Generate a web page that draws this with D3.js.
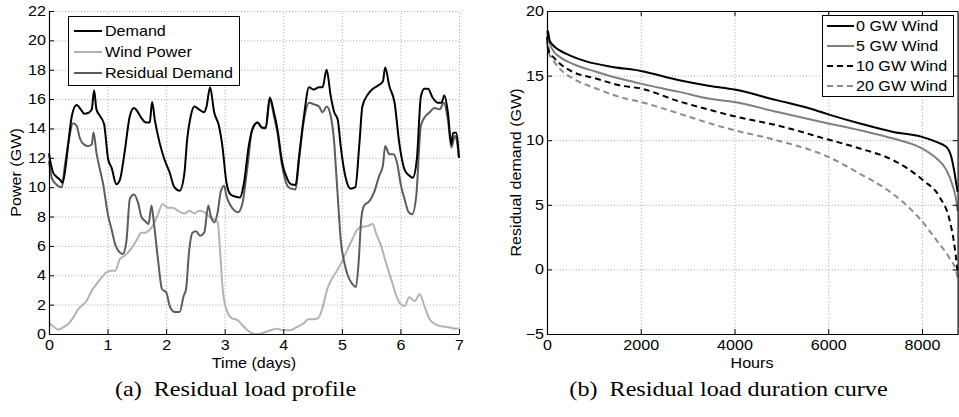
<!DOCTYPE html>
<html><head><meta charset="utf-8">
<script src="https://cdn.jsdelivr.net/npm/d3@7"></script>
<style>
body{margin:0;background:#fff}
svg text{fill:#000}
</style>
</head><body>
<svg id="chart" width="959" height="417"></svg>
<script>
// ---------- data: (a) residual load profile ----------
const dayTicks = [0,1,2,3,4,5,6,7];
const powerTicks = [0,2,4,6,8,10,12,14,16,18,20,22];
const profileSeries = ["Demand","Wind Power","Residual Demand"];
const demand = [[0,12.3],[0.03,11.6],[0.07,11.0],[0.13,10.7],[0.19,10.5],[0.23,10.3],[0.27,11.0],[0.33,13.0],[0.39,14.85],[0.47,15.6],[0.56,15.2],[0.60,15.0],[0.67,15.05],[0.73,15.3],[0.77,16.6],[0.81,15.3],[0.87,14.85],[0.94,14.3],[1.01,11.9],[1.07,11.3],[1.15,10.2],[1.21,10.5],[1.29,12.35],[1.38,14.85],[1.45,15.4],[1.52,15.1],[1.58,14.7],[1.66,14.4],[1.72,14.4],[1.76,15.8],[1.81,14.5],[1.89,13.0],[1.97,11.9],[2.06,11.0],[2.14,10.0],[2.23,9.75],[2.31,10.9],[2.36,13.3],[2.42,14.85],[2.48,15.5],[2.56,15.3],[2.65,15.1],[2.69,15.5],[2.75,16.8],[2.82,15.1],[2.90,14.2],[2.96,12.8],[3.03,10.3],[3.10,9.5],[3.19,9.35],[3.26,9.3],[3.33,10.3],[3.41,12.8],[3.47,13.9],[3.56,14.4],[3.64,14.05],[3.70,14.05],[3.77,16.1],[3.84,15.1],[3.90,13.95],[3.98,11.7],[4.07,10.55],[4.13,10.2],[4.21,10.15],[4.27,12.1],[4.35,14.75],[4.44,16.8],[4.52,16.65],[4.61,16.8],[4.67,16.8],[4.74,18.0],[4.81,16.2],[4.87,15.1],[4.93,14.6],[4.98,12.8],[5.07,10.55],[5.15,9.9],[5.23,10.0],[5.30,13.0],[5.35,15.5],[5.44,16.3],[5.53,16.7],[5.61,16.9],[5.70,17.2],[5.74,18.15],[5.81,16.9],[5.90,15.75],[5.98,13.0],[6.07,11.2],[6.15,10.8],[6.21,10.65],[6.28,11.9],[6.35,16.2],[6.41,16.7],[6.47,16.7],[6.55,16.1],[6.64,15.75],[6.70,15.75],[6.75,16.25],[6.81,15.1],[6.87,12.9],[6.90,13.7],[6.95,13.7],[7.0,12.0]];
const windPower = [[0,0.75],[0.05,0.6],[0.16,0.3],[0.24,0.45],[0.33,0.7],[0.41,1.1],[0.50,1.7],[0.58,2.0],[0.64,2.25],[0.73,2.95],[0.81,3.4],[0.90,3.85],[0.98,4.2],[1.07,4.3],[1.13,4.3],[1.21,5.1],[1.28,5.3],[1.35,5.55],[1.42,5.9],[1.49,6.35],[1.58,6.9],[1.64,6.9],[1.72,7.1],[1.77,7.35],[1.86,8.15],[1.94,8.85],[2.03,8.6],[2.11,8.6],[2.20,8.4],[2.31,8.2],[2.40,8.4],[2.48,8.2],[2.56,8.4],[2.65,8.3],[2.73,8.0],[2.82,7.8],[2.88,7.6],[2.93,5.1],[2.97,2.85],[3.05,1.45],[3.13,1.05],[3.22,0.95],[3.30,0.6],[3.39,0.25],[3.47,0.05],[3.56,0.0],[3.67,0.1],[3.78,0.25],[3.90,0.35],[4.0,0.25],[4.11,0.25],[4.22,0.45],[4.34,0.7],[4.43,1.0],[4.51,1.0],[4.60,1.1],[4.67,1.8],[4.75,3.05],[4.83,3.75],[4.93,4.4],[5.01,5.0],[5.10,5.8],[5.18,6.45],[5.27,7.15],[5.35,7.3],[5.44,7.35],[5.53,7.5],[5.58,6.9],[5.67,6.0],[5.75,4.9],[5.84,3.75],[5.93,2.6],[6.0,2.05],[6.07,1.9],[6.15,2.5],[6.24,2.25],[6.33,2.7],[6.41,1.9],[6.50,1.0],[6.58,0.7],[6.67,0.55],[6.75,0.5],[6.84,0.45],[6.95,0.35],[7.0,0.4]];
const residualDemand = [[0,11.8],[0.05,10.6],[0.10,10.3],[0.22,10.0],[0.27,11.45],[0.33,13.0],[0.41,14.35],[0.47,14.2],[0.53,13.3],[0.60,12.9],[0.67,12.8],[0.73,12.9],[0.76,13.75],[0.81,12.35],[0.87,11.2],[0.92,10.3],[1.01,8.05],[1.07,7.1],[1.13,6.1],[1.21,5.55],[1.26,5.45],[1.32,6.25],[1.38,9.2],[1.45,9.5],[1.52,8.95],[1.58,7.95],[1.64,7.7],[1.70,7.5],[1.75,8.75],[1.79,7.6],[1.86,5.1],[1.93,3.05],[2.00,2.85],[2.07,1.8],[2.15,1.5],[2.23,1.5],[2.30,2.6],[2.34,3.05],[2.39,5.55],[2.45,6.9],[2.51,7.0],[2.58,6.7],[2.65,6.9],[2.72,8.75],[2.76,8.05],[2.82,7.6],[2.88,8.3],[2.93,9.65],[2.99,10.1],[3.03,9.4],[3.10,8.75],[3.17,8.4],[3.23,8.3],[3.30,8.85],[3.39,11.45],[3.47,13.95],[3.56,14.4],[3.64,14.05],[3.70,14.0],[3.77,16.0],[3.84,14.85],[3.90,13.7],[3.98,11.45],[4.07,10.1],[4.13,9.9],[4.21,9.85],[4.27,11.9],[4.35,14.5],[4.44,15.75],[4.52,15.65],[4.61,15.5],[4.67,15.1],[4.74,15.5],[4.81,14.85],[4.87,13.0],[4.90,11.2],[4.94,8.75],[4.98,6.45],[5.04,4.9],[5.10,4.0],[5.18,3.4],[5.24,3.2],[5.29,5.1],[5.33,7.8],[5.38,8.75],[5.47,9.05],[5.55,9.65],[5.64,10.8],[5.70,11.45],[5.74,12.8],[5.81,12.25],[5.88,12.25],[5.94,11.7],[6.01,10.1],[6.07,9.2],[6.14,8.3],[6.20,8.15],[6.27,9.4],[6.35,14.2],[6.43,14.85],[6.50,15.1],[6.58,15.4],[6.67,15.3],[6.74,15.75],[6.81,14.6],[6.87,12.7],[6.93,13.5],[6.95,13.4],[7.0,12.0]];

// ---------- data: (b) residual load duration curve ----------
const hourTicks = [0,2000,4000,6000,8000];
const residTicks = [-5,0,5,10,15,20];
const durationSeries = ["0 GW Wind","5 GW Wind","10 GW Wind","20 GW Wind"];
const wind0GW = [[0,18.5],[21,18.4],[57,17.7],[128,17.35],[270,16.95],[482,16.57],[837,16.1],[1404,15.67],[2000,15.36],[2822,14.64],[3473,14.2],[4000,13.92],[4897,13.1],[5608,12.45],[6000,12.0],[6676,11.29],[7388,10.64],[8000,10.26],[8306,9.87],[8520,9.48],[8626,8.7],[8698,7.4],[8733,6.6],[8760,6.0]];
const wind5GW = [[0,18.4],[21,18.0],[57,17.5],[128,16.95],[270,16.45],[553,15.9],[1049,15.3],[1546,14.77],[2000,14.38],[2822,13.74],[3473,13.2],[4000,12.96],[4897,12.2],[6000,11.3],[6676,10.77],[7388,10.13],[8000,9.36],[8306,8.6],[8520,7.7],[8662,6.4],[8733,5.3],[8760,4.5]];
const wind10GW = [[0,18.0],[21,17.3],[57,16.7],[128,16.45],[270,15.93],[553,15.28],[1049,14.77],[1546,14.25],[2000,14.0],[2822,13.0],[3473,12.35],[4000,11.85],[4897,11.16],[6000,10.05],[6676,9.36],[7388,8.45],[8021,6.9],[8377,5.6],[8590,3.8],[8697,1.74],[8747,0.2],[8760,-0.3]];
const wind20GW = [[0,17.6],[21,17.0],[57,16.6],[128,16.2],[270,15.54],[553,14.77],[1049,14.0],[1546,13.35],[2000,12.96],[2822,12.06],[3473,11.3],[4000,10.77],[4897,10.0],[6000,8.71],[6676,7.4],[7242,6.2],[7600,5.2],[7954,3.92],[8310,2.26],[8590,0.85],[8733,-0.18],[8760,-0.7]];

const captions = ["(a)\u00a0\u00a0Residual load profile","(b)\u00a0\u00a0Residual load duration curve"];

// ---------- drawing ----------
const svg = d3.select("#chart");
const SX = 1.15;          // horizontal text stretch of the original raster
const FS = 14;
const SANS = '"Liberation Sans", Arial, Helvetica, sans-serif';
const SERIF = '"Liberation Serif", "Times New Roman", serif';

function gridLines(g, x, y, xt, yt){
  const [x0,x1] = x.range(), [y0,y1] = y.range();
  const grid = g.append("g").attr("stroke","#8a8a8a").attr("stroke-width",0.8).attr("stroke-dasharray","1,2.2");
  grid.selectAll(".vx").data(xt).join("line").attr("x1",d=>x(d)+0.5).attr("x2",d=>x(d)+0.5).attr("y1",y0).attr("y2",y1);
  grid.selectAll(".hy").data(yt).join("line").attr("y1",d=>y(d)+0.5).attr("y2",d=>y(d)+0.5).attr("x1",x0).attr("x2",x1);
}

function axes(g, x, y, xt, yt, box){
  const [x0,x1] = x.range(), [y0,y1] = y.range();
  const ax = g.append("g").attr("transform",`translate(0,${y0})`)
    .call(d3.axisBottom(x).tickValues(xt).tickSizeInner(-5).tickSizeOuter(0).tickPadding(6).tickFormat(d=>d));
  const ay = g.append("g").attr("transform",`translate(${x0},0)`)
    .call(d3.axisLeft(y).tickValues(yt).tickSizeInner(-5).tickSizeOuter(0).tickPadding(3).tickFormat(d=>d<0?"\u2212"+Math.abs(d):d));
  [ax,ay].forEach(a=>{
    a.selectAll("path.domain").attr("stroke","#000").attr("stroke-width",1.2);
    a.selectAll(".tick line").attr("stroke","#000");
    a.selectAll("text").attr("font-size",FS).style("font-family",SANS).attr("fill","#000");
  });
  ax.selectAll("text").attr("transform",`scale(${SX},1)`);
  ay.selectAll("text").attr("x",-3/SX).attr("transform",`scale(${SX},1)`);
  if (box){
    const at = g.append("g").attr("transform",`translate(0,${y1})`)
      .call(d3.axisTop(x).tickValues(xt).tickSizeInner(-5).tickSizeOuter(0).tickFormat(""));
    const ar = g.append("g").attr("transform",`translate(${x1},0)`)
      .call(d3.axisRight(y).tickValues(yt).tickSizeInner(-5).tickSizeOuter(0).tickFormat(""));
    [at,ar].forEach(a=>{ a.selectAll("path.domain").attr("stroke","#000").attr("stroke-width",1.2); a.selectAll(".tick line").attr("stroke","#000"); });
  }
}

function label(g, txt, x, y, rot, size, family, anchor){
  return g.append("text").text(txt)
    .attr("font-size",size).attr("text-anchor",anchor||"middle")
    .style("font-family",family||SANS)
    .attr("transform",`translate(${x},${y}) rotate(${rot||0}) scale(${SX},1)`);
}

function legend(g, names, styles, bx, by, bw, bh, rowY, lineX0, lineX1, textX){
  g.append("rect").attr("x",bx+0.5).attr("y",by+0.5).attr("width",bw).attr("height",bh)
    .attr("fill","#fff").attr("stroke","#000").attr("stroke-width",1);
  names.forEach((n,i)=>{
    const s = styles[i], yy = rowY[i];
    g.append("line").attr("x1",lineX0).attr("x2",lineX1).attr("y1",yy).attr("y2",yy)
      .attr("stroke",s.color).attr("stroke-width",s.w).attr("stroke-dasharray",s.dash||null);
    label(g, n, textX, yy+5, 0, FS, SANS, "start");
  });
}

// ---- chart (a)
{
  const g = svg.append("g");
  const x = d3.scaleLinear().domain([0,7]).range([49,459]);
  const y = d3.scaleLinear().domain([0,22]).range([334,11]);
  gridLines(g,x,y,dayTicks,powerTicks);
  const line = d3.line().x(d=>x(d[0])).y(d=>y(d[1])).curve(d3.curveMonotoneX);
  const styles = [{color:"#000",w:2},{color:"#b3b3b3",w:2},{color:"#5c5c5c",w:2}];
  const series = [demand, windPower, residualDemand];
  [1,2,0].forEach(i=>{
    g.append("path").datum(series[i]).attr("d",line).attr("fill","none")
      .attr("stroke",styles[i].color).attr("stroke-width",styles[i].w).attr("stroke-linejoin","round");
  });
  axes(g,x,y,dayTicks,powerTicks,false);
  label(g,"Time (days)",254,368,0,FS);
  label(g,"Power (GW)",21,172.5,-90,FS);
  legend(g, profileSeries, styles, 68,16,171,69,[31,52,73],74,102,105);
  label(g, captions[0], 235.5, 396, 0, 21, SERIF);
}

// ---- chart (b)
{
  const g = svg.append("g");
  const x = d3.scaleLinear().domain([0,8760]).range([547,957.6]);
  const y = d3.scaleLinear().domain([-5,20]).range([334,11]);
  gridLines(g,x,y,hourTicks,residTicks);
  const line = d3.line().x(d=>x(d[0])).y(d=>y(d[1])).curve(d3.curveMonotoneX);
  const styles = [{color:"#000",w:2},{color:"#808080",w:2},{color:"#000",w:2,dash:"6,4"},{color:"#8c8c8c",w:2,dash:"6,4"}];
  const series = [wind0GW, wind5GW, wind10GW, wind20GW];
  [3,2,1,0].forEach(i=>{
    g.append("path").datum(series[i]).attr("d",line).attr("fill","none")
      .attr("stroke",styles[i].color).attr("stroke-width",styles[i].w).attr("stroke-dasharray",styles[i].dash||null);
  });
  axes(g,x,y,hourTicks,residTicks,true);
  label(g,"Hours",752,368,0,FS);
  label(g,"Residual demand (GW)",521,172.5,-90,FS);
  legend(g, durationSeries, styles, 822,15,131,81,[26,46,66,86],827,854,856);
  label(g, captions[1], 728.5, 396, 0, 21, SERIF);
}
</script>
</body></html>
